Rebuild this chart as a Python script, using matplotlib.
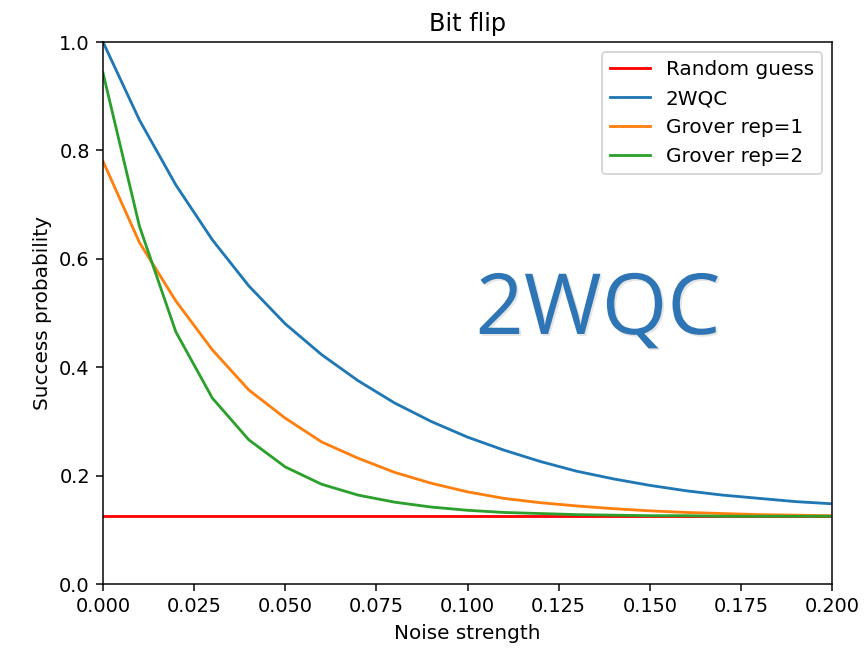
import matplotlib
matplotlib.use("Agg")
import matplotlib.pyplot as plt
import matplotlib.patheffects as pe

noise = [0.00, 0.01, 0.02, 0.03, 0.04, 0.05, 0.06, 0.07, 0.08, 0.09, 0.10,
         0.11, 0.12, 0.13, 0.14, 0.15, 0.16, 0.17, 0.18, 0.19, 0.20]

random_guess = [0.125] * len(noise)

wqc = [1.000, 0.856, 0.736, 0.635, 0.550, 0.480, 0.423, 0.375, 0.334, 0.300, 0.271,
       0.247, 0.226, 0.208, 0.194, 0.182, 0.172, 0.164, 0.158, 0.152, 0.148]

grover_rep1 = [0.780, 0.630, 0.522, 0.432, 0.358, 0.306, 0.262, 0.232, 0.206, 0.186, 0.170,
               0.158, 0.150, 0.144, 0.139, 0.135, 0.132, 0.130, 0.128, 0.127, 0.126]

grover_rep2 = [0.943, 0.660, 0.465, 0.343, 0.266, 0.216, 0.184, 0.164, 0.151, 0.142, 0.136,
               0.132, 0.130, 0.128, 0.127, 0.126, 0.126, 0.125, 0.125, 0.125, 0.125]

plt.rcParams["font.size"] = 10.7
plt.rcParams["xtick.labelsize"] = 10.3
plt.rcParams["ytick.labelsize"] = 10.3

fig = plt.figure(figsize=(865 / 135, 648 / 135), dpi=135)
ax = fig.add_axes([103 / 865, 1 - 584 / 648, (832 - 103) / 865, (584 - 42) / 648])

ax.plot(noise, random_guess, color="red", label="Random guess")
ax.plot(noise, wqc, color="#1f77b4", label="2WQC")
ax.plot(noise, grover_rep1, color="#ff7f0e", label="Grover rep=1")
ax.plot(noise, grover_rep2, color="#2ca02c", label="Grover rep=2")

ax.set_xlim(0, 0.2)
ax.set_ylim(0, 1.0)
ax.set_title("Bit flip")
ax.set_xlabel("Noise strength")
ax.set_ylabel("Success probability")
ax.legend(loc="upper right")

fig.text(598 / 865, 1 - 312 / 648, "2WQC", family="Open Sans", fontsize=45,
         color="#2E75B6", ha="center", va="center",
         path_effects=[pe.SimplePatchShadow(offset=(1.0, -1.0), alpha=0.2, shadow_rgbFace="gray"),
                       pe.Normal()])

fig.savefig("out.png", dpi=135)
